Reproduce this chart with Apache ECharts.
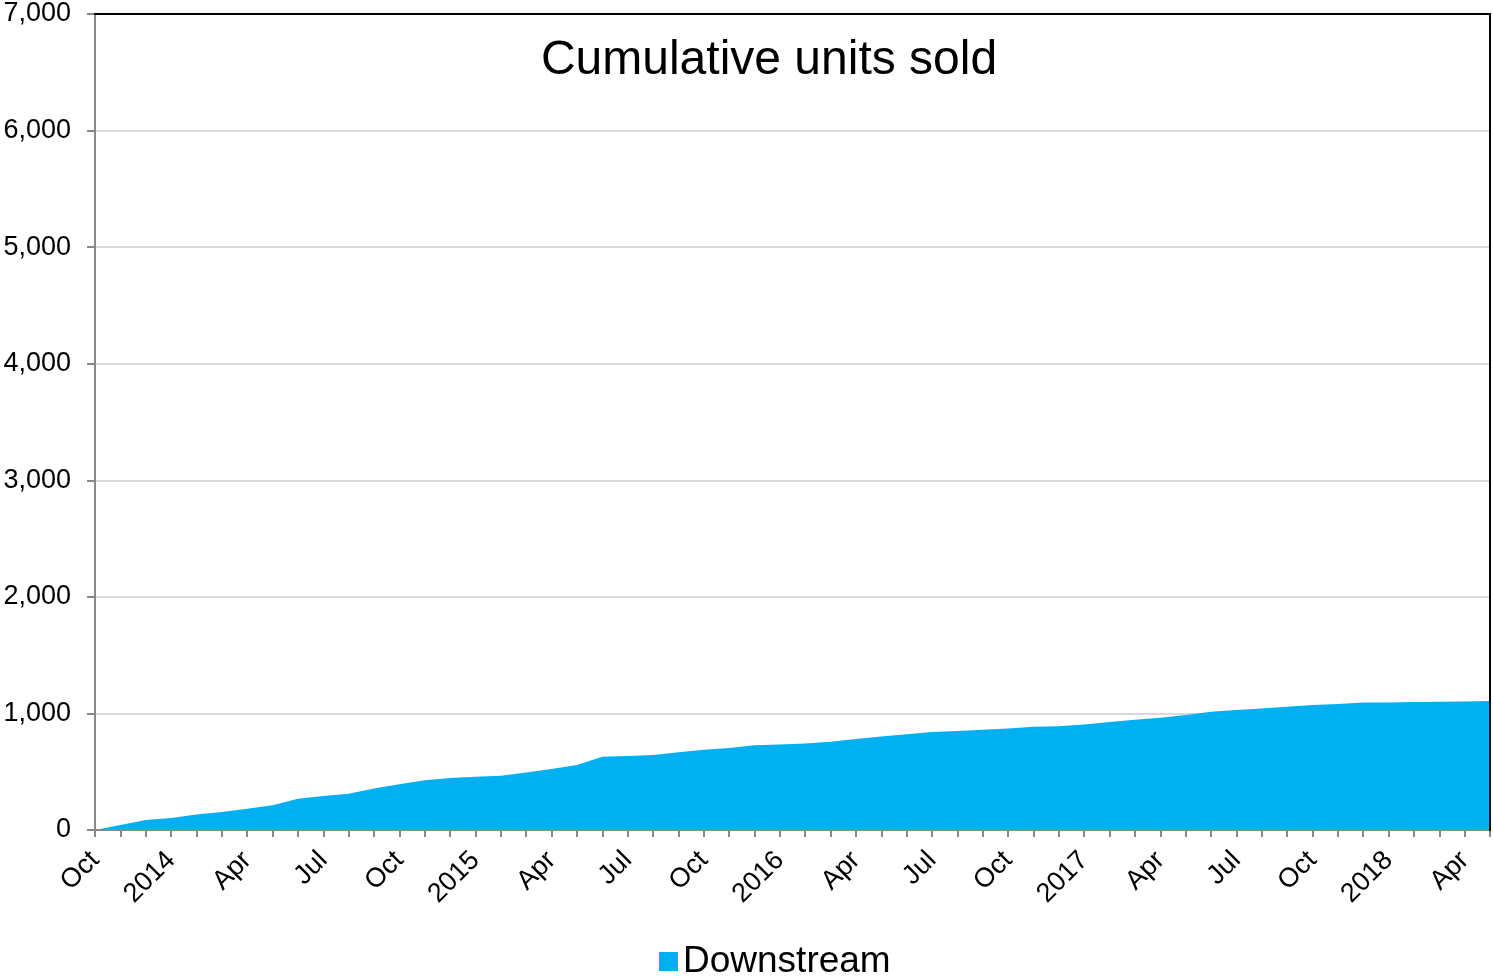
<!DOCTYPE html>
<html>
<head>
<meta charset="utf-8">
<script src="https://cdn.jsdelivr.net/npm/echarts@6/dist/echarts.min.js"></script>
<style>
html,body{margin:0;padding:0;background:#fff;}
#chart{width:1493px;height:978px;}
</style>
</head>
<body>
<div id="chart"></div>
<script>
const months = [
  'Oct','Nov','Dec',
  '2014','Feb','Mar','Apr','May','Jun','Jul','Aug','Sep','Oct','Nov','Dec',
  '2015','Feb','Mar','Apr','May','Jun','Jul','Aug','Sep','Oct','Nov','Dec',
  '2016','Feb','Mar','Apr','May','Jun','Jul','Aug','Sep','Oct','Nov','Dec',
  '2017','Feb','Mar','Apr','May','Jun','Jul','Aug','Sep','Oct','Nov','Dec',
  '2018','Feb','Mar','Apr','May'
];
const downstream = [
  0, 43, 86,
  103, 132, 155, 183, 212, 269, 292, 312, 355, 392, 426, 446,
  457, 466, 494, 523, 557, 629, 634, 643, 666, 689, 703, 726,
  734, 743, 757, 780, 803, 822, 840, 849, 860, 871, 886, 891,
  906, 926, 946, 963, 986, 1015, 1029, 1043, 1057, 1072, 1080, 1094,
  1094, 1097, 1100, 1103, 1106
];
const yTicks = { min: 0, max: 7000, interval: 1000 };
const titleText = 'Cumulative units sold';
const seriesName = 'Downstream';

const chart = echarts.init(document.getElementById('chart'));
const font = 'Liberation Sans, Arial, sans-serif';
chart.setOption({
  animation: false,
  backgroundColor: '#fff',
  title: {
    text: titleText,
    left: 764, top: 32, textAlign: 'center',
    textStyle: { fontFamily: font, fontSize: 48, fontWeight: 'normal', color: '#000' }
  },
  legend: {
    data: [seriesName],
    bottom: -7, left: 654,
    icon: 'rect', itemWidth: 19, itemHeight: 19, itemGap: 8,
    textStyle: { fontFamily: font, fontSize: 37, color: '#000' }
  },
  grid: {
    left: 95, right: 3, top: 14, bottom: 148
  },
  xAxis: [{
    type: 'category',
    data: months,
    boundaryGap: false,
    axisLine: { lineStyle: { color: '#888', width: 2 } },
    axisTick: { show: true, interval: 0, length: 7, lineStyle: { color: '#888', width: 2 } },
    axisLabel: {
      interval: 2, rotate: 45, margin: 26,
      fontFamily: font, fontSize: 27, color: '#000'
    },
    splitLine: { show: false },
    z: 5
  }, {
    type: 'category',
    data: months,
    boundaryGap: false,
    position: 'top',
    axisLine: { show: true, onZero: false, lineStyle: { color: '#000', width: 2 } },
    axisTick: { show: false },
    axisLabel: { show: false },
    splitLine: { show: false },
    z: 10
  }],
  yAxis: [{
    type: 'value',
    min: yTicks.min, max: yTicks.max, interval: yTicks.interval,
    axisLine: { show: true, lineStyle: { color: '#888', width: 2 } },
    axisTick: { show: true, length: 8, lineStyle: { color: '#888', width: 2 } },
    axisLabel: {
      margin: 24, fontFamily: font, fontSize: 27, color: '#000',
      formatter: v => v.toLocaleString('en-US')
    },
    splitLine: { show: true, showMaxLine: false, lineStyle: { color: '#d9d9d9', width: 2 } }
  }, {
    type: 'value',
    position: 'right',
    min: yTicks.min, max: yTicks.max, interval: yTicks.interval,
    axisLine: { show: true, onZero: false, lineStyle: { color: '#000', width: 2 } },
    axisTick: { show: false },
    axisLabel: { show: false },
    splitLine: { show: false },
    z: 10
  }],
  series: [{
    name: seriesName,
    type: 'line',
    data: downstream,
    symbol: 'none',
    lineStyle: { width: 0, color: '#00B0F0' },
    itemStyle: { color: '#00B0F0' },
    areaStyle: { color: '#00B0F0', opacity: 1 }
  }]
});
</script>
</body>
</html>
